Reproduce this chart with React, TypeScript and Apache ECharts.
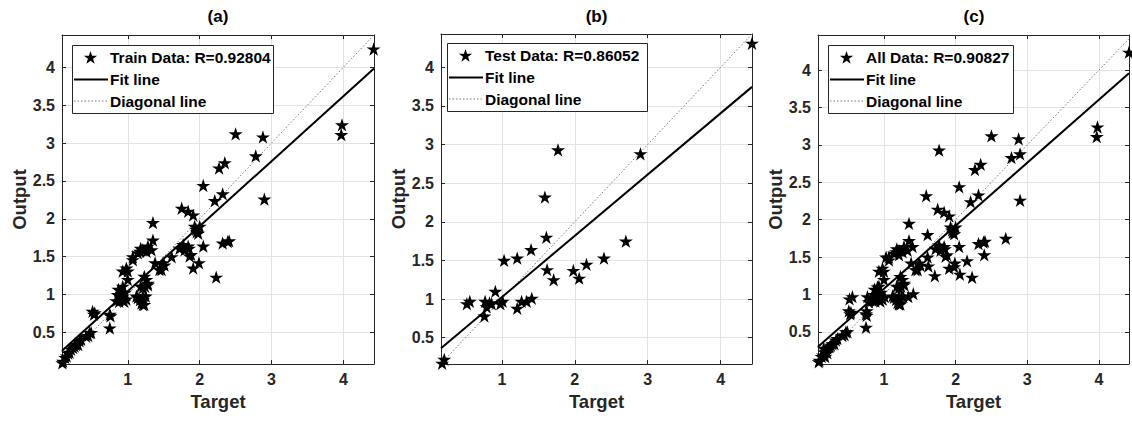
import React, { useEffect, useRef } from 'react';
import * as echarts from 'echarts';

// ---------- DATA ----------
const trainPoints: [number, number][] = [
  [0.09, 0.1], [0.1, 0.12], [0.13, 0.17], [0.15, 0.19], [0.17, 0.23], [0.19, 0.24], [0.21, 0.28], [0.24, 0.3],
  [0.26, 0.32], [0.28, 0.34], [0.31, 0.34], [0.33, 0.39], [0.35, 0.41], [0.42, 0.45], [0.45, 0.46], [0.47, 0.5],
  [0.49, 0.5], [0.51, 0.78], [0.53, 0.74], [0.54, 0.76], [0.75, 0.56], [0.75, 0.74], [0.76, 0.72],
  [0.84, 0.92], [0.86, 1.0], [0.88, 0.91], [0.9, 0.96], [0.93, 0.98], [0.95, 0.91], [0.96, 1.03], [0.98, 0.94],
  [0.87, 1.07], [0.93, 1.11], [0.9, 0.99], [0.92, 1.01],
  [0.93, 1.31], [0.98, 1.35], [1.0, 1.31], [1.0, 1.2], [1.07, 1.46],
  [1.12, 0.98], [1.14, 0.96], [1.17, 0.93], [1.21, 0.93], [1.21, 0.87], [1.23, 0.87], [1.25, 0.98], [1.19, 0.89], [1.21, 0.98],
  [1.18, 1.11], [1.24, 1.11], [1.26, 1.2], [1.28, 1.13], [1.23, 1.24], [1.28, 1.15], [1.21, 1.09],
  [1.07, 1.5], [1.14, 1.55], [1.17, 1.57], [1.18, 1.61], [1.21, 1.59], [1.26, 1.57], [1.33, 1.59], [1.28, 1.64],
  [1.35, 1.72], [1.35, 1.95],
  [1.38, 1.42], [1.44, 1.33], [1.47, 1.33], [1.49, 1.42], [1.51, 1.39], [1.61, 1.5],
  [1.72, 1.61], [1.77, 1.66], [1.79, 1.59], [1.84, 1.64], [1.85, 1.61], [1.86, 1.51], [1.88, 1.53], [1.91, 1.35],
  [1.99, 1.42], [2.05, 1.64],
  [1.75, 2.14], [1.84, 2.1], [1.91, 2.05], [1.93, 1.9], [1.95, 1.86], [1.98, 1.81], [2.0, 1.9], [1.96, 1.83],
  [2.23, 1.23], [2.32, 1.68], [2.39, 1.7], [2.41, 1.71],
  [2.05, 2.44], [2.21, 2.24], [2.32, 2.33], [2.27, 2.67], [2.35, 2.74], [2.5, 3.12], [2.78, 2.83], [2.88, 3.08],
  [2.9, 2.26], [3.97, 3.11], [3.98, 3.24], [4.42, 4.24],
];

const testPoints: [number, number][] = [
  [0.16, 0.28], [0.18, 0.17], [0.21, 0.22], [0.52, 0.94], [0.56, 0.97], [0.76, 0.78], [0.77, 0.97], [0.79, 0.9],
  [0.86, 0.94], [0.91, 1.1], [0.98, 0.94], [1.01, 0.97], [0.83, 0.95], [1.03, 1.5], [1.21, 1.53], [1.4, 1.64],
  [1.21, 0.88], [1.27, 0.97], [1.34, 0.97], [1.41, 1.01], [1.61, 1.8], [1.59, 2.32], [1.77, 2.93], [1.62, 1.38],
  [1.71, 1.25], [1.98, 1.37], [2.06, 1.27], [2.16, 1.45], [2.4, 1.53], [2.7, 1.75], [2.9, 2.88], [4.43, 4.31],
];

const allPoints: [number, number][] = [...trainPoints, ...testPoints];

const panelTitles = ['(a)', '(b)', '(c)'];
const legendLabels = ['Train Data: R=0.92804', 'Test Data: R=0.86052', 'All Data: R=0.90827'];
const fitSlopes = [0.858, 0.793, 0.843];
const fitIntercepts = [0.187, 0.233, 0.233];
const axisMins = [0.085, 0.165, 0.08];
const axisMaxs = [4.425, 4.43, 4.42];
const yAxisMins = [0.085, 0.16, 0.07];
const yAxisMaxs = [4.425, 4.43, 4.47];
const xLabel = 'Target';
const yLabel = 'Output';

// ---------- LAYOUT ----------
const grids = [
  { left: 62, top: 35, width: 312, height: 329 },
  { left: 441, top: 34, width: 311, height: 330 },
  { left: 818, top: 35, width: 312, height: 329 },
];
const legendBoxes = [
  { x: 72, y: 45, w: 201 },
  { x: 447, y: 43, w: 200 },
  { x: 828, y: 45, w: 185 },
];

const STAR =
  'M0,-10L2.245,-3.09L9.51,-3.09L3.633,1.18L5.88,8.09L0,3.82L-5.88,8.09L-3.633,1.18L-9.51,-3.09L-2.245,-3.09Z';

let registered = false;
function ensureShape() {
  if (registered) return;
  try {
    echarts.graphic.registerShape('pentagram', echarts.graphic.extendPath(STAR, {}));
  } catch (e) {
    /* ignore */
  }
  registered = true;
}

const FONT = '"Liberation Sans", Arial, Helvetica, sans-serif';
const AX = '#262626';

const fmt = (step: number) => (v: number) => {
  const r = v / step;
  return Math.abs(r - Math.round(r)) < 1e-6 ? String(Math.round(v * 10) / 10) : '';
};

export default function App() {
  const ref = useRef<HTMLDivElement>(null);
  useEffect(() => {
    if (!ref.current) return;
    ensureShape();
    const chart = echarts.init(ref.current, undefined, { renderer: 'svg' });
    const datasets = [trainPoints, testPoints, allPoints];

    const xAxes: any[] = [];
    const yAxes: any[] = [];
    const series: any[] = [];
    const graphics: any[] = [];

    datasets.forEach((pts, i) => {
      const xmin = axisMins[i], xmax = axisMaxs[i];
      const ymin = yAxisMins[i], ymax = yAxisMaxs[i];
      const labelStyle = { color: AX, fontSize: 16, fontWeight: 'bold', fontFamily: FONT };
      const nameStyle = { color: AX, fontSize: 18.5, fontWeight: 'bold', fontFamily: FONT };
      const common = {
        gridIndex: i,
        type: 'value',
        axisLine: { show: true, onZero: false, lineStyle: { color: AX, width: 1 } },
        axisTick: { show: true, inside: true, length: 4, lineStyle: { color: AX } },
      };
      xAxes.push({
        ...common,
        position: 'bottom',
        min: xmin,
        max: xmax,
        minInterval: 1,
        maxInterval: 1,
        axisLabel: { ...labelStyle, margin: 7, formatter: fmt(1) },
        splitLine: { show: true, lineStyle: { color: '#e3e3e3', width: 1 } },
        name: xLabel,
        nameLocation: 'middle',
        nameGap: 26,
        nameTextStyle: nameStyle,
      });
      xAxes.push({
        ...common,
        position: 'top',
        min: xmin,
        max: xmax,
        minInterval: 1,
        maxInterval: 1,
        axisLabel: { show: false },
        splitLine: { show: false },
      });
      yAxes.push({
        ...common,
        position: 'left',
        min: ymin,
        max: ymax,
        minInterval: 0.5,
        maxInterval: 0.5,
        axisLabel: { ...labelStyle, margin: 7, formatter: fmt(0.5) },
        splitLine: { show: true, lineStyle: { color: '#e3e3e3', width: 1 } },
        name: yLabel,
        nameLocation: 'middle',
        nameGap: 31,
        nameTextStyle: nameStyle,
      });
      yAxes.push({
        ...common,
        position: 'right',
        min: ymin,
        max: ymax,
        minInterval: 0.5,
        maxInterval: 0.5,
        axisLabel: { show: false },
        splitLine: { show: false },
      });

      const k = fitSlopes[i], b = fitIntercepts[i];
      series.push({
        type: 'line',
        xAxisIndex: 2 * i,
        yAxisIndex: 2 * i,
        data: [[xmin, xmin], [xmax, xmax]],
        symbol: 'none',
        lineStyle: { color: '#777', width: 1, type: [1.5, 2] },
        z: 2,
        silent: true,
      });
      series.push({
        type: 'line',
        xAxisIndex: 2 * i,
        yAxisIndex: 2 * i,
        data: [[xmin, k * xmin + b], [xmax, k * xmax + b]],
        symbol: 'none',
        lineStyle: { color: '#000', width: 2 },
        z: 3,
        silent: true,
      });
      series.push({
        type: 'scatter',
        xAxisIndex: 2 * i,
        yAxisIndex: 2 * i,
        data: pts,
        symbol: 'path://' + STAR,
        symbolKeepAspect: true,
        symbolSize: 14,
        itemStyle: { color: '#000', opacity: 1 },
        z: 4,
        silent: true,
      });

      const g = grids[i];
      graphics.push({
        type: 'text',
        x: g.left + g.width / 2,
        y: 16,
        z: 50,
        style: {
          text: panelTitles[i],
          fill: '#000',
          fontSize: 17,
          fontWeight: 'bold',
          fontFamily: FONT,
          align: 'center',
          verticalAlign: 'middle',
        },
      });

      const L = legendBoxes[i];
      graphics.push({
        type: 'rect',
        z: 50,
        shape: { x: L.x + 0.5, y: L.y + 0.5, width: L.w, height: 68 },
        style: { fill: '#fff', stroke: AX, lineWidth: 1 },
      });
      graphics.push({
        type: 'pentagram',
        z: 51,
        x: L.x + 18.5,
        y: L.y + 13,
        scaleX: 0.7,
        scaleY: 0.7,
        style: { fill: '#000' },
      });
      graphics.push({
        type: 'line',
        z: 51,
        shape: { x1: L.x + 2, y1: L.y + 34.5, x2: L.x + 36, y2: L.y + 34.5 },
        style: { stroke: '#000', lineWidth: 2 },
      });
      graphics.push({
        type: 'line',
        z: 51,
        shape: { x1: L.x + 2, y1: L.y + 56, x2: L.x + 36, y2: L.y + 56 },
        style: { stroke: '#777', lineWidth: 1, lineDash: [1.5, 2] },
      });
      ['', 'Fit line', 'Diagonal line'].forEach((t, r) => {
        graphics.push({
          type: 'text',
          z: 52,
          x: L.x + 38,
          y: L.y + [12.5, 34.5, 56][r],
          style: {
            text: r === 0 ? legendLabels[i] : t,
            fill: '#000',
            fontSize: 15.5,
            fontWeight: 'bold',
            fontFamily: FONT,
            align: 'left',
            verticalAlign: 'middle',
          },
        });
      });
    });

    chart.setOption({
      animation: false,
      backgroundColor: '#fff',
      grid: grids.map((g) => ({ ...g, containLabel: false })),
      xAxis: xAxes,
      yAxis: yAxes,
      series,
      graphic: { elements: graphics },
    });
    return () => chart.dispose();
  }, []);

  return (
    <div
      ref={ref}
      style={{ position: 'absolute', left: 0, top: 0, width: 1132, height: 422, background: '#fff' }}
    />
  );
}
